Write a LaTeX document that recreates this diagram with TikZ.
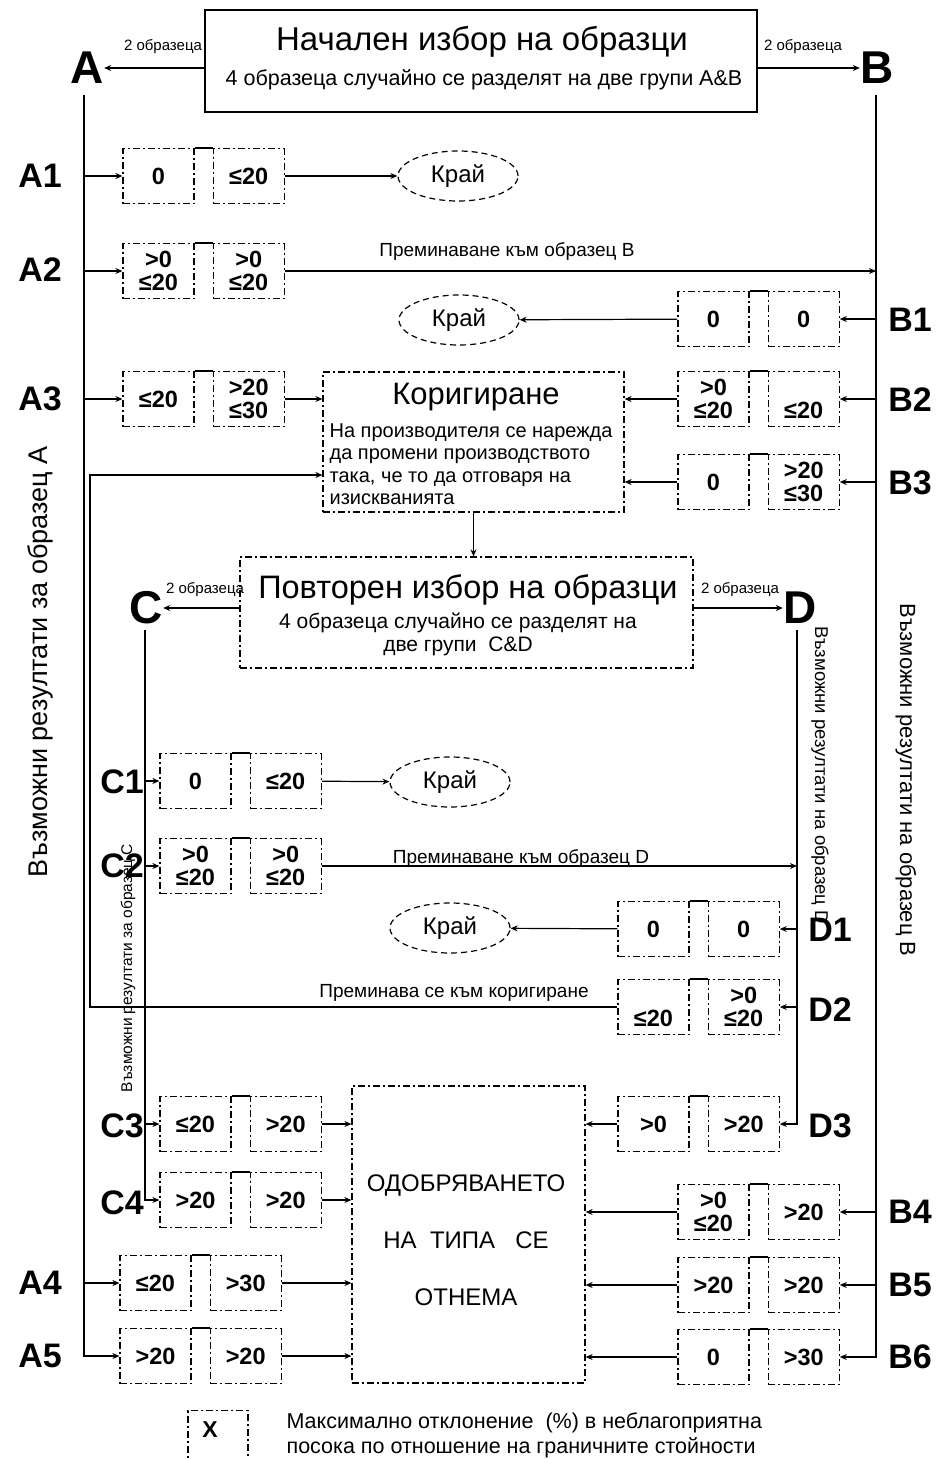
\documentclass[tikz,border=0pt]{standalone}
\usepackage{fontspec}
\setmainfont{Liberation Sans}
\usetikzlibrary{shapes.geometric,arrows.meta}
\usetikzlibrary{positioning}
\newcommand{\fsz}[2]{\fontsize{#1}{#2}\selectfont}

\begin{document}
\begin{tikzpicture}[
  x=1pt, y=-1pt,
  >={Stealth[length=7pt,width=6pt]},
  line width=1.2pt,
  every node/.style={inner sep=0pt},
  box/.style={draw, dash pattern=on 7pt off 3pt on 2pt off 3pt, minimum width=71pt, minimum height=55pt, align=center, font=\bfseries\fsz{23.5}{23}},
  endbox/.style={draw, ellipse, dash pattern=on 6pt off 4pt, minimum width=120pt, minimum height=50pt, font=\fsz{24}{26}},
  stage/.style={draw, dash pattern=on 7pt off 3pt on 2pt off 3pt},
  group/.style={font=\bfseries\fsz{46}{46}},
  result/.style={font=\bfseries\fsz{34}{34}},
  note/.style={font=\fsz{19}{22}},
  split/.style={font=\fsz{15}{17}},
  arr/.style={->}
]
\useasboundingbox (0,0) rectangle (936,1459);

% initial selection
\node[draw, line width=1.5pt, minimum width=552pt, minimum height=102pt] (start) at (481,61) {};
\node[font=\fsz{33}{36}] (starttitle) at (482,42) {Начален избор на образци};
\node[font=\fsz{21.5}{24}] (startsub) at (484,80) {4 образеца случайно се разделят на две групи A\&B};
\node[group] (A) at (87,68) {A};
\node[group] (B) at (877,68) {B};
\node[split] (splitA) at (163,47) {2 образеца};
\node[split] (splitB) at (803,47) {2 образеца};
\coordinate (Atop) at (84,95);
\coordinate (Btop) at (876,95);

% results for A and B
\node[box] (a1l) at (158.5,176) {0};
\node[box, right=18pt of a1l] (a1r) {≤20};
\node[box] (a2l) at (158.5,271) {>0\\≤20};
\node[box, right=18pt of a2l] (a2r) {>0\\≤20};
\node[box] (a3l) at (158.5,399) {≤20};
\node[box, right=18pt of a3l] (a3r) {>20\\≤30};
\node[box] (a4l) at (155.5,1283) {≤20};
\node[box, right=18pt of a4l] (a4r) {>30};
\node[box] (a5l) at (155.5,1356) {>20};
\node[box, right=18pt of a5l] (a5r) {>20};
\node[box] (b1l) at (713.5,319) {0};
\node[box, right=18pt of b1l] (b1r) {0};
\node[box] (b2l) at (713.5,399) {>0\\≤20};
\node[box, right=18pt of b2l] (b2r) {\phantom{>0}\\≤20};
\node[box] (b3l) at (713.5,482) {0};
\node[box, right=18pt of b3l] (b3r) {>20\\≤30};
\node[box] (b4l) at (713.5,1212) {>0\\≤20};
\node[box, right=18pt of b4l] (b4r) {>20};
\node[box] (b5l) at (713.5,1285) {>20};
\node[box, right=18pt of b5l] (b5r) {>20};
\node[box] (b6l) at (713.5,1357) {0};
\node[box, right=18pt of b6l] (b6r) {>30};

\node[result] (la1) at (40,176) {A1};
\node[result] (la2) at (40,270) {A2};
\node[result] (la3) at (40,399) {A3};
\node[result] (la4) at (40,1283) {A4};
\node[result] (la5) at (40,1356) {A5};
\node[result] (lb1) at (910,320) {B1};
\node[result] (lb2) at (910,400) {B2};
\node[result] (lb3) at (910,483) {B3};
\node[result] (lb4) at (910,1212) {B4};
\node[result] (lb5) at (910,1285) {B5};
\node[result] (lb6) at (910,1357) {B6};

\node[endbox] (end1) at (458,176) {Край};
\node[endbox] (end2) at (459,320) {Край};

% correction
\node[stage, minimum width=301pt, minimum height=140pt] (korig) at (473.5,442) {};
\node[font=\fsz{31}{34}] (korigtitle) at (476,397) {Коригиране};
\node[font=\fsz{20}{22.5}, align=left, anchor=west] (korigtext) at (329,464)
  {На производителя се нарежда\\да промени производството\\така, че то да отговаря на\\изискванията};

% repeated selection
\node[stage, minimum width=453pt, minimum height=111pt] (repeat) at (466.5,612.5) {};
\node[font=\fsz{32.5}{35}] (repeattitle) at (468,590) {Повторен избор на образци};
\node[font=\fsz{21}{23}, align=center] (repeatsub) at (458,634)
  {4 образеца случайно се разделят на\\две групи\ \ C\&D};
\node[group] (C) at (146,608) {C};
\node[group] (D) at (800,608) {D};
\node[split] (splitC) at (205,590) {2 образеца};
\node[split] (splitD) at (740,590) {2 образеца};
\coordinate (Ctop) at (145,630);
\coordinate (Dtop) at (797,630);

% results for C and D
\node[box] (c1l) at (195.5,781) {0};
\node[box, right=18pt of c1l] (c1r) {≤20};
\node[box] (c2l) at (195.5,866) {>0\\≤20};
\node[box, right=18pt of c2l] (c2r) {>0\\≤20};
\node[box] (c3l) at (195.5,1124) {≤20};
\node[box, right=18pt of c3l] (c3r) {>20};
\node[box] (c4l) at (195.5,1200) {>20};
\node[box, right=18pt of c4l] (c4r) {>20};
\node[box] (d1l) at (653.5,929) {0};
\node[box, right=18pt of d1l] (d1r) {0};
\node[box] (d2l) at (653.5,1007) {\phantom{>0}\\≤20};
\node[box, right=18pt of d2l] (d2r) {>0\\≤20};
\node[box] (d3l) at (653.5,1124) {>0};
\node[box, right=18pt of d3l] (d3r) {>20};

\node[result] (lc1) at (122,782) {C1};
\node[result] (lc2) at (122,866) {C2};
\node[result] (lc3) at (122,1126) {C3};
\node[result] (lc4) at (122,1203) {C4};
\node[result] (ld1) at (830,930) {D1};
\node[result] (ld2) at (830,1010) {D2};
\node[result] (ld3) at (830,1126) {D3};

\node[endbox] (end3) at (450,782) {Край};
\node[endbox] (end4) at (450,928) {Край};

% type approval withdrawn
\node[stage, minimum width=233pt, minimum height=297pt] (appr) at (468.5,1234.5) {};
\node[font=\fsz{24}{57}, align=center] (apprtext) at (466,1240)
  {ОДОБРЯВАНЕТО\\НА\ \ ТИПА\ \ \ СЕ\\ОТНЕМА};

% side texts
\node[rotate=90, font=\fsz{27}{27}] (resA) at (40,662) {Възможни резултати за образец A};
\node[rotate=-90, font=\fsz{22}{22}] (resB) at (906,780) {Възможни резултати на образец B};
\node[rotate=-90, font=\fsz{18.5}{18.5}] (resD) at (820,775) {Възможни резултати на образец D};
\node[rotate=90, font=\fsz{15.5}{15.5}] (resC) at (128,968) {Възможни резултати за образец C};
\node[note] (toB) at (507,251) {Преминаване към образец B};
\node[note] (toD) at (521,858) {Преминаване към образец D};
\node[note] (tokorig) at (454,993) {Преминава се към коригиране};

% legend
\node[box, minimum width=60pt, minimum height=70pt, anchor=north] (legend) at (218,1410) {};
\node[font=\bfseries\fsz{23}{23}] (legendx) at (210,1430) {X};
\node[font=\fsz{21.5}{25}, align=left, anchor=west] (legendtext) at (286,1435)
  {Максимално отклонение\ \ (\%) в неблагоприятна\\посока по отношение на граничните стойности};

% connectors
\draw[arr] (start.west |- A) -- (A.east);
\draw[arr] (start.east |- B) -- (B.west);
\draw[arr] (repeat.west |- C) -- (C.east);
\draw[arr] (repeat.east |- D) -- (D.west);
\draw[arr] (Atop) |- (a5l);
\draw[arr] (Btop) |- (b6r);
\draw[arr] (Ctop) |- (c4l);
\draw[arr] (Dtop) |- (d3r);
\foreach \p in {a1,a2,a3,a4} \draw[arr] (Atop |- \p l) -- (\p l);
\foreach \p in {b1,b2,b3,b4,b5} \draw[arr] (Btop |- \p r) -- (\p r);
\foreach \p in {c1,c2,c3} \draw[arr] (Ctop |- \p l) -- (\p l);
\foreach \p in {d1,d2} \draw[arr] (Dtop |- \p r) -- (\p r);
\foreach \p in {a1,a2,a3,a4,a5,b1,b2,b3,b4,b5,b6,c1,c2,c3,c4,d1,d2,d3}
  \draw (\p l.north east) -- (\p r.north west);

\draw[arr] (a1r) -- (end1);
\draw[arr] (b1l) -- (end2);
\draw[arr] (c1r) -- (end3);
\draw[arr] (d1l) -- (end4);
\draw[arr] (a2r) -- (Btop |- a2r);
\draw[arr] (c2r) -- (Dtop |- c2r);
\draw[arr] (a3r) -- (korig.west |- a3r);
\draw[arr] (b2l) -- (korig.east |- b2l);
\draw[arr] (b3l) -- (korig.east |- b3l);
\draw[arr] (korig.south) -- (korig.south |- repeat.north);
\coordinate (loopbot) at (90,1007);
\coordinate (looptop) at (90,475);
\draw[arr] (d2l) -- (loopbot) -- (looptop) -- (korig.west |- looptop);
\foreach \p in {c3,c4,a4,a5} \draw[arr] (\p r) -- (appr.west |- \p r);
\foreach \p in {d3,b4,b5,b6} \draw[arr] (\p l) -- (appr.east |- \p l);
\end{tikzpicture}
\end{document}
